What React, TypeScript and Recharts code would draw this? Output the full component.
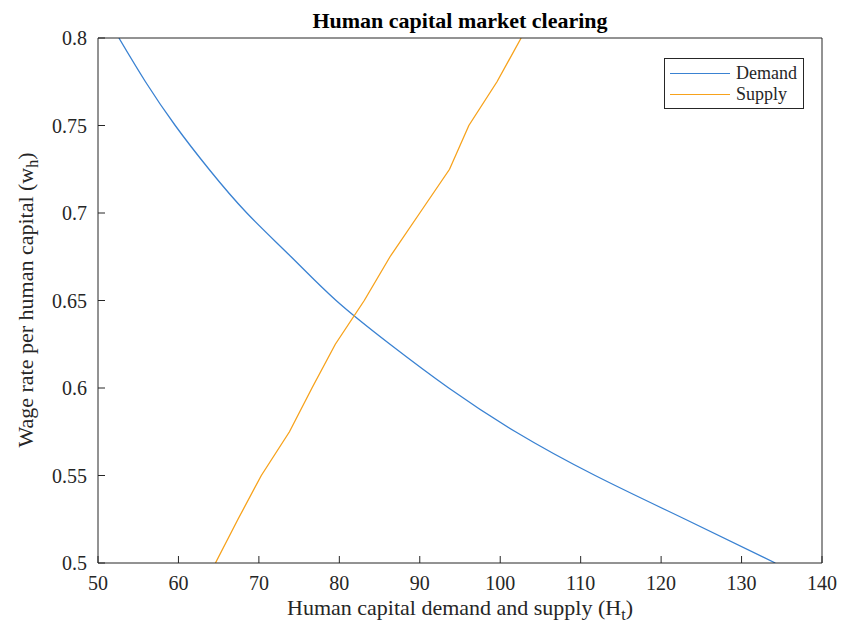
import React from 'react';
import { Legend, Line, LineChart, XAxis, YAxis } from 'recharts';

const wageGrid = [0.5, 0.525, 0.55, 0.575, 0.6, 0.625, 0.65, 0.675, 0.7, 0.725, 0.75, 0.775, 0.8];
const demandH = [134.2, 123.0, 111.8, 101.9, 93.6, 86.3, 79.6, 74.0, 68.5, 63.8, 59.6, 55.9, 52.6];
const supplyH = [64.6, 67.4, 70.3, 73.8, 76.6, 79.5, 83.1, 86.3, 90.0, 93.7, 96.1, 99.6, 102.6];

const xTicks = [50, 60, 70, 80, 90, 100, 110, 120, 130, 140];
const yTicks = [0.5, 0.55, 0.6, 0.65, 0.7, 0.75, 0.8];

const demandData = wageGrid.map((w, i) => ({ h: demandH[i], w }));
const supplyData = wageGrid.map((w, i) => ({ h: supplyH[i], w }));

const FONT = '"Liberation Serif", "Times New Roman", serif';
const AXIS_COLOR = '#262626';
const DEMAND_COLOR = '#3a82d2';
const SUPPLY_COLOR = '#f7a21b';

const tickStyle = { fill: AXIS_COLOR, fontSize: 20, fontFamily: FONT };

const LegendBox = () => (
  <div
    style={{
      width: 140,
      height: 51,
      boxSizing: 'border-box',
      border: `1px solid ${AXIS_COLOR}`,
      background: '#fff',
      fontFamily: FONT,
      fontSize: 18,
      color: AXIS_COLOR,
      position: 'relative',
    }}
  >
    {[
      { name: 'Demand', color: DEMAND_COLOR, top: 14 },
      { name: 'Supply', color: SUPPLY_COLOR, top: 35 },
    ].map((item) => (
      <div key={item.name} style={{ position: 'absolute', left: 5, top: item.top - 11, height: 22, display: 'flex', alignItems: 'center' }}>
        <div style={{ width: 60, height: 0, borderTop: `1.3px solid ${item.color}` }} />
        <span style={{ marginLeft: 6, lineHeight: '22px' }}>{item.name}</span>
      </div>
    ))}
  </div>
);

const App = () => {
  return (
    <div style={{ position: 'absolute', left: 0, top: 0, width: 842, height: 631, background: '#fff' }}>
      <LineChart width={842} height={631} margin={{ top: 18, right: 0, bottom: 38, left: 38 }}>
        <XAxis
          xAxisId='bottom'
          dataKey='h'
          type='number'
          domain={[50, 140]}
          ticks={xTicks}
          allowDataOverflow
          height={30}
          stroke={AXIS_COLOR}
          tick={tickStyle}
          tickSize={-7}
          tickMargin={20}
          tickLine={{ stroke: AXIS_COLOR }}
        />
        <XAxis
          xAxisId='top'
          orientation='top'
          dataKey='h'
          type='number'
          domain={[50, 140]}
          ticks={xTicks}
          allowDataOverflow
          height={20}
          stroke={AXIS_COLOR}
          tick={false}
          tickSize={-7}
          tickLine={{ stroke: AXIS_COLOR }}
        />
        <YAxis
          yAxisId='left'
          dataKey='w'
          type='number'
          domain={[0.5, 0.8]}
          ticks={yTicks}
          allowDataOverflow
          width={60}
          stroke={AXIS_COLOR}
          tick={tickStyle}
          tickSize={-7}
          tickMargin={18}
          tickLine={{ stroke: AXIS_COLOR }}
          tickFormatter={(v) => String(v)}
        />
        <YAxis
          yAxisId='right'
          orientation='right'
          dataKey='w'
          type='number'
          domain={[0.5, 0.8]}
          ticks={yTicks}
          allowDataOverflow
          width={20}
          stroke={AXIS_COLOR}
          tick={false}
          tickSize={-7}
          tickLine={{ stroke: AXIS_COLOR }}
        />
        <Legend
          layout='vertical'
          align='center'
          verticalAlign='middle'
          wrapperStyle={{ left: 664, top: 58, width: 140, height: 51 }}
          content={() => <LegendBox />}
        />
        <Line
          name='Demand'
          type='natural'
          data={demandData}
          xAxisId='bottom'
          yAxisId='left'
          dataKey='w'
          stroke={DEMAND_COLOR}
          strokeWidth={1.3}
          dot={false}
          isAnimationActive={false}
        />
        <Line
          name='Supply'
          data={supplyData}
          xAxisId='top'
          yAxisId='right'
          dataKey='w'
          stroke={SUPPLY_COLOR}
          strokeWidth={1.3}
          dot={false}
          isAnimationActive={false}
        />
      </LineChart>
      <div
        style={{
          position: 'absolute',
          left: 98,
          width: 724,
          top: 8,
          lineHeight: '26px',
          textAlign: 'center',
          fontFamily: FONT,
          fontWeight: 'bold',
          fontSize: 22,
          color: '#000',
        }}
      >
        Human capital market clearing
      </div>
      <div
        style={{
          position: 'absolute',
          left: 98,
          width: 724,
          top: 595,
          lineHeight: '26px',
          textAlign: 'center',
          fontFamily: FONT,
          fontSize: 22,
          color: AXIS_COLOR,
          whiteSpace: 'nowrap',
        }}
      >
        Human capital demand and supply (H<sub style={{ fontSize: 16, lineHeight: 0 }}>t</sub>)
      </div>
      <div
        style={{
          position: 'absolute',
          left: 26,
          top: 300,
          transform: 'translate(-50%, -50%) rotate(-90deg)',
          whiteSpace: 'nowrap',
          lineHeight: '26px',
          fontFamily: FONT,
          fontSize: 22,
          color: AXIS_COLOR,
        }}
      >
        Wage rate per human capital (w<sub style={{ fontSize: 16, lineHeight: 0 }}>h</sub>)
      </div>
    </div>
  );
};

export default App;
